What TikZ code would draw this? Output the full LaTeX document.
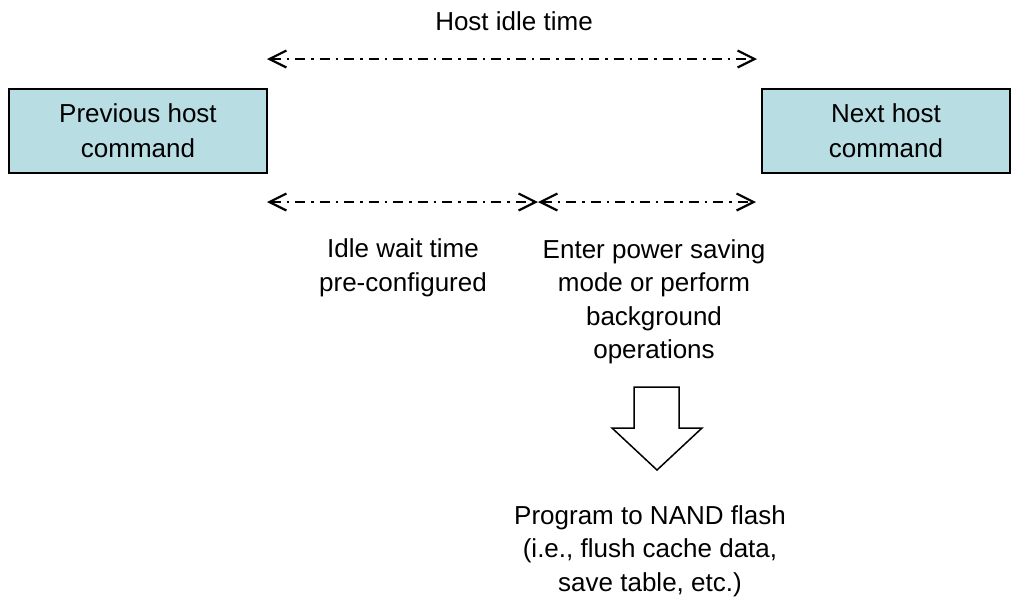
\documentclass[tikz,border=0pt]{standalone}
\usepackage{fontspec}
\setmainfont{Liberation Sans}
\usepackage{xcolor}
\usepackage{tikz}
\usetikzlibrary{arrows.meta,positioning}
\definecolor{cmdteal}{RGB}{184,222,228}

\begin{document}
\begin{tikzpicture}[x=1pt,y=-1pt,
  cmdbox/.style={rectangle,draw=black,line width=2pt,fill=cmdteal,
    minimum width=258pt,minimum height=84pt,inner sep=0pt,
    align=center,font=\fontsize{26}{35}\selectfont},
  label/.style={inner sep=0pt,align=center,font=\fontsize{26}{33.5}\selectfont},
  span/.style={{Straight Barb[length=17pt,width=17pt]}-{Straight Barb[length=17pt,width=17pt]},
    line width=2.2pt,dash pattern=on 10pt off 6pt on 2.5pt off 6pt},
]
  \useasboundingbox (0,0) rectangle (1013,598);
  \node[cmdbox] (prev) at (138,131) {Previous host\\command};
  \node[cmdbox,minimum width=248pt] (next) at (886,131) {Next host\\command};
  \node[label,anchor=base] (hostidle) at (514,30) {Host idle time};
  \node[label] (idlewait) at (403,268) {Idle wait time\\pre-configured};
  \node[label] (power) at (654,302) {Enter power saving\\mode or perform\\background\\operations};
  \node[label] (program) at (650,551) {Program to NAND flash\\(i.e., flush cache data,\\save table, etc.)};
  \coordinate (topl) at (267,59);
  \coordinate (topr) at (757,59);
  \coordinate (botl) at (267,202);
  \coordinate (botm) at (538,202);
  \coordinate (botr) at (756,202);
  \draw[span] (topl) -- (topr);
  \draw[span] (botl) -- (botm);
  \draw[span] (botm) -- (botr);
  % block arrow down to the flash step
  \draw[line width=1.5pt,fill=white] (634,387) -- (679,387) -- (679,428) -- (702,428)
    -- (657,470) -- (612,428) -- (634,428) -- cycle;
\end{tikzpicture}
\end{document}
